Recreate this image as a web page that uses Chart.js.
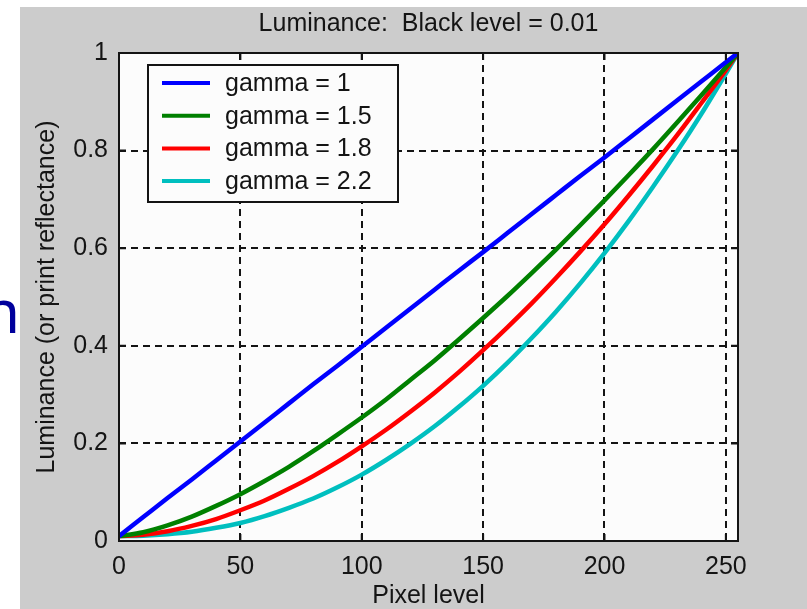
<!DOCTYPE html>
<html>
<head>
<meta charset="utf-8">
<script src="https://cdn.jsdelivr.net/npm/chart.js@4.4.0/dist/chart.umd.min.js"></script>
<style>
  body { margin: 0; width: 807px; height: 609px; overflow: hidden; background: #fff; position: relative; }
  #fig { position: absolute; left: 20px; top: 7px; width: 787px; height: 602px; background: #cccccc; }
  #cut { position: absolute; left: -17px; top: 280px; font: 60px/60px "Noto Sans", sans-serif; color: #00009c; }
</style>
</head>
<body>
<span id="cut">n</span>
<div id="fig"><canvas id="graphiqueGamma" width="787" height="602"></canvas></div>
<script>
// valeurs
const pixelLevels = [0, 10, 20, 30, 40, 50, 60, 70, 80, 90, 100, 110, 120, 130, 140, 150, 160, 170, 180, 190, 200, 210, 220, 230, 240, 250, 255];
const gamma10 = [0.010, 0.049, 0.088, 0.126, 0.165, 0.204, 0.243, 0.282, 0.321, 0.359, 0.398, 0.437, 0.476, 0.515, 0.554, 0.592, 0.631, 0.670, 0.709, 0.748, 0.786, 0.825, 0.864, 0.903, 0.942, 0.981, 1.000];
const gamma15 = [0.010, 0.018, 0.032, 0.050, 0.072, 0.096, 0.123, 0.152, 0.184, 0.218, 0.253, 0.290, 0.330, 0.370, 0.413, 0.457, 0.502, 0.549, 0.597, 0.647, 0.698, 0.750, 0.803, 0.858, 0.914, 0.971, 1.000];
const gamma18 = [0.010, 0.013, 0.020, 0.031, 0.045, 0.063, 0.083, 0.107, 0.133, 0.162, 0.194, 0.228, 0.265, 0.304, 0.346, 0.391, 0.438, 0.487, 0.539, 0.593, 0.649, 0.708, 0.769, 0.832, 0.898, 0.965, 1.000];
const gamma22 = [0.010, 0.011, 0.014, 0.019, 0.027, 0.037, 0.051, 0.068, 0.087, 0.110, 0.136, 0.166, 0.199, 0.235, 0.275, 0.318, 0.365, 0.416, 0.470, 0.528, 0.590, 0.656, 0.726, 0.799, 0.876, 0.958, 1.000];
const seriesLabels = ['gamma = 1', 'gamma = 1.5', 'gamma = 1.8', 'gamma = 2.2'];
const seriesColors = ['#0000ff', '#008000', '#ff0000', '#00bfbf'];
const xTicks = [0, 50, 100, 150, 200, 250];
const yTicks = [0, 0.2, 0.4, 0.6, 0.8, 1];

const police = '"Liberation Sans", Arial, sans-serif';
const encre = '#141414';

function points(ys) {
    return pixelLevels.map(function(x, i) { return { x: x, y: ys[i] }; });
}

const cadre = { // fond blanc, bordure, petites graduations et legende
    id: 'cadre',
    beforeDatasetsDraw: function(chart) {
        var a = chart.chartArea, ctx = chart.ctx;
        ctx.save();
        ctx.globalCompositeOperation = 'destination-over';
        ctx.fillStyle = '#fcfcfc';
        ctx.fillRect(a.left, a.top, a.right - a.left, a.bottom - a.top);
        ctx.restore();
    },
    afterDatasetsDraw: function(chart) {
        var a = chart.chartArea, ctx = chart.ctx;
        var sx = chart.scales.x, sy = chart.scales.y;
        ctx.save();
        ctx.strokeStyle = encre;
        ctx.lineWidth = 2;
        ctx.beginPath();
        xTicks.forEach(function(v) {
            var px = sx.getPixelForValue(v);
            ctx.moveTo(px, a.bottom); ctx.lineTo(px, a.bottom - 7);
            ctx.moveTo(px, a.top); ctx.lineTo(px, a.top + 7);
        });
        yTicks.forEach(function(v) {
            var py = sy.getPixelForValue(v);
            ctx.moveTo(a.left, py); ctx.lineTo(a.left + 7, py);
            ctx.moveTo(a.right, py); ctx.lineTo(a.right - 7, py);
        });
        ctx.stroke();
        ctx.strokeRect(a.left, a.top, a.right - a.left, a.bottom - a.top);

        // legende
        var bx = a.left + 29, by = a.top + 12;
        ctx.fillStyle = '#fcfcfc';
        ctx.fillRect(bx, by, 250, 137);
        ctx.strokeRect(bx, by, 250, 137);
        ctx.font = '25px ' + police;
        ctx.textBaseline = 'middle';
        ctx.textAlign = 'left';
        seriesLabels.forEach(function(label, i) {
            var ry = by + 18 + i * 32.7;
            ctx.strokeStyle = seriesColors[i];
            ctx.lineWidth = 4;
            ctx.beginPath();
            ctx.moveTo(bx + 14, ry); ctx.lineTo(bx + 62, ry);
            ctx.stroke();
            ctx.fillStyle = encre;
            ctx.fillText(label, bx + 77, ry + 1);
        });
        ctx.restore();
    }
};

var ctx = document.getElementById('graphiqueGamma').getContext('2d');
var series = [gamma10, gamma15, gamma18, gamma22];

var graphique = new Chart(ctx, {
    type: 'line',
    data: {
        datasets: series.map(function(s, i) {
            return {
                label: seriesLabels[i],
                data: points(s),
                borderColor: seriesColors[i],
                borderWidth: 4.5,
                pointRadius: 0,
                fill: false,
                cubicInterpolationMode: 'monotone'
            };
        })
    },
    options: {
        responsive: false,
        animation: false,
        layout: { padding: { top: 0, right: 69, bottom: 0, left: 0 } },
        plugins: {
            legend: { display: false },
            tooltip: { enabled: false },
            title: {
                display: true,
                fullSize: false,
                text: 'Luminance:  Black level = 0.01',
                color: encre,
                font: { family: police, size: 25, weight: 'normal', lineHeight: 1 },
                padding: { top: 5, bottom: 16 }
            }
        },
        scales: {
            x: {
                type: 'linear',
                min: 0,
                max: 255,
                afterBuildTicks: function(scale) { scale.ticks = xTicks.map(function(v) { return { value: v }; }); },
                afterFit: function(scale) { scale.height = 68; },
                grid: { color: encre, lineWidth: 2, drawTicks: false },
                border: { display: false, dash: [7, 5] },
                ticks: { color: encre, padding: 11, maxRotation: 0, font: { family: police, size: 25 } },
                title: { display: true, text: 'Pixel level', color: encre, padding: { top: 0, bottom: 0 }, font: { family: police, size: 25, lineHeight: 1 } }
            },
            y: {
                min: 0,
                max: 1,
                afterBuildTicks: function(scale) { scale.ticks = yTicks.map(function(v) { return { value: v }; }); },
                afterFit: function(scale) { scale.width = 99; },
                grid: { color: encre, lineWidth: 2, drawTicks: false },
                border: { display: false, dash: [7, 5] },
                ticks: { color: encre, padding: 11, font: { family: police, size: 25 }, callback: function(v) { return String(v); } },
                title: { display: true, text: 'Luminance (or print reflectance)', color: encre, padding: { top: 15, bottom: 0 }, font: { family: police, size: 25, lineHeight: 1 } }
            }
        }
    },
    plugins: [cadre]
});
</script>
</body>
</html>
